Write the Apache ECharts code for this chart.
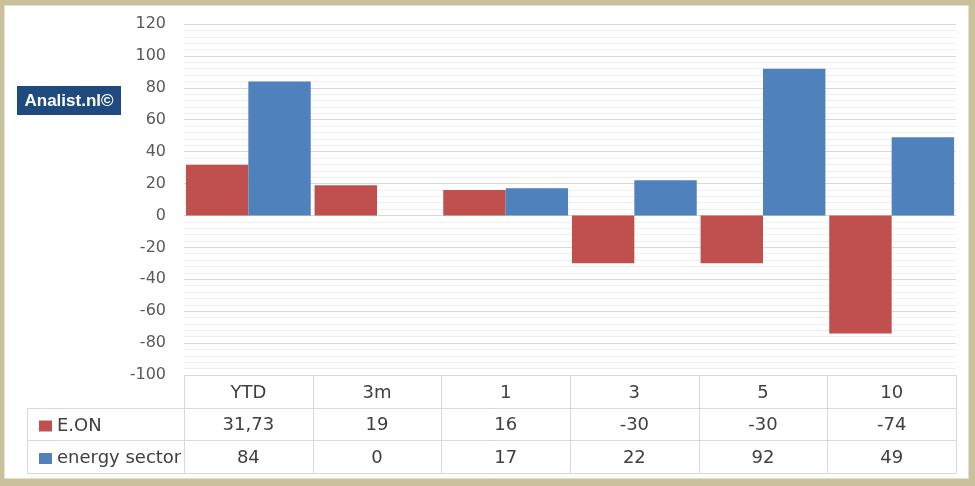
<!DOCTYPE html>
<html>
<head>
<meta charset="utf-8">
<script src="https://cdn.jsdelivr.net/npm/echarts@6/dist/echarts.min.js"></script>
<style>
html,body{margin:0;padding:0;background:#fff;}
#chart{width:975px;height:486px;}
</style>
</head>
<body>
<div id="chart"></div>
<script>
// ---- data ----
const categories = ['YTD', '3m', '1', '3', '5', '10'];
const seriesNames = ['E.ON', 'energy sector'];
const eonValues = [31.73, 19, 16, -30, -30, -74];
const energyValues = [84, 0, 17, 22, 92, 49];
const yTicks = {min: -100, max: 120, interval: 20};
const logoText = 'Analist.nl©';

// ---- layout constants ----
const W = 975, H = 486;
const GRID_L = 184, GRID_R = 956, GRID_T = 24, GRID_B = 375;
const ROW_H = 32.5;
const TABLE_LEFT = 27;
const RED = '#c0504d', BLUE = '#4f81bd';
const LINE = '#d9d9d9';

function fmt(v) { return String(v).replace('.', ','); }

const chart = echarts.init(document.getElementById('chart'), null, {renderer: 'canvas'});

const graphics = [];
graphics.push({type: 'rect', z: -20, silent: true, shape: {x: 0, y: 0, width: W, height: H}, style: {fill: '#c9c19b'}});
graphics.push({type: 'rect', z: -19, silent: true, shape: {x: 4.5, y: 5.5, width: 964, height: 473}, style: {fill: '#ffffff', stroke: '#e4e0cf', lineWidth: 1}});
const tableBottom = GRID_B + ROW_H * 3;
[GRID_B + ROW_H, GRID_B + ROW_H * 2, tableBottom].forEach(function (y) {
  graphics.push({type: 'line', silent: true, shape: {x1: TABLE_LEFT, y1: Math.round(y) + 0.5, x2: GRID_R, y2: Math.round(y) + 0.5}, style: {stroke: LINE, lineWidth: 1}});
});
graphics.push({type: 'line', silent: true, shape: {x1: TABLE_LEFT + 0.5, y1: Math.round(GRID_B + ROW_H) + 0.5, x2: TABLE_LEFT + 0.5, y2: Math.round(tableBottom) + 0.5}, style: {stroke: LINE, lineWidth: 1}});
const colW = (GRID_R - GRID_L) / categories.length;
for (let i = 0; i <= categories.length; i++) {
  const x = Math.round(GRID_L + i * colW) + 0.5;
  graphics.push({type: 'line', silent: true, shape: {x1: x, y1: GRID_B, x2: x, y2: Math.round(tableBottom) + 0.5}, style: {stroke: LINE, lineWidth: 1}});
}
// logo
graphics.push({
  type: 'group', left: 17, top: 86,
  children: [
    {type: 'rect', shape: {x: 0, y: 0, width: 104, height: 29}, style: {fill: '#1f4a7f'}},
    {type: 'text', x: 52, y: 15, style: {text: logoText, fill: '#ffffff', font: 'bold 17px "Liberation Sans"', align: 'center', verticalAlign: 'middle'}}
  ]
});

const option = {
  animation: false,
  backgroundColor: 'transparent',
  grid: {left: GRID_L, right: W - GRID_R, top: GRID_T, bottom: H - GRID_B, containLabel: false},
  legend: {
    orient: 'vertical', left: 34, top: 411,
    itemWidth: 13, itemHeight: 11, itemGap: 12.5,
    icon: 'rect',
    data: seriesNames,
    textStyle: {fontFamily: 'DejaVu Sans', fontSize: 18, color: '#404040', lineHeight: 20}
  },
  xAxis: {
    type: 'category',
    data: categories,
    axisLine: {show: false, onZero: false},
    axisTick: {show: false},
    splitLine: {show: false},
    axisLabel: {
      margin: 2,
      interval: 0,
      fontFamily: 'DejaVu Sans',
      fontSize: 18,
      color: '#404040',
      lineHeight: ROW_H,
      formatter: function (v, idx) {
        return v + '\n' + fmt(eonValues[idx]) + '\n' + fmt(energyValues[idx]);
      }
    }
  },
  yAxis: {
    type: 'value',
    min: yTicks.min, max: yTicks.max, interval: yTicks.interval,
    axisLine: {show: false},
    axisTick: {show: false},
    axisLabel: {fontFamily: 'DejaVu Sans', fontSize: 16, color: '#595959', margin: 18},
    splitLine: {show: true, lineStyle: {color: LINE, width: 1}},
    minorTick: {show: false, splitNumber: 5},
    minorSplitLine: {show: true, lineStyle: {color: '#efefef', width: 1}}
  },
  series: [
    {name: seriesNames[0], type: 'bar', data: eonValues, itemStyle: {color: RED}, barGap: '0%', barCategoryGap: '3%'},
    {name: seriesNames[1], type: 'bar', data: energyValues, itemStyle: {color: BLUE}, barGap: '0%', barCategoryGap: '3%'}
  ],
  graphic: graphics
};
chart.setOption(option);
</script>
</body>
</html>
